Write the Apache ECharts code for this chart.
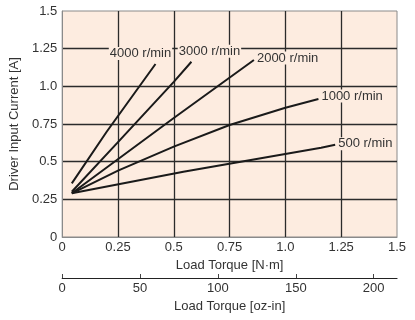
<!DOCTYPE html>
<html>
<head>
<meta charset="utf-8">
<script src="https://cdn.jsdelivr.net/npm/echarts@6/dist/echarts.min.js"></script>
<style>
html,body{margin:0;padding:0;background:#fff;}
#chart{width:415px;height:320px;}
</style>
</head>
<body>
<div id="chart"></div>
<script>
// ---- data (Load Torque [N·m] vs Driver Input Current [A]) ----
const speedNames = ['4000 r/min', '3000 r/min', '2000 r/min', '1000 r/min', '500 r/min'];
const torque4000 = [0.043, 0.2, 0.418];
const current4000 = [0.356, 0.70, 1.148];
const torque3000 = [0.043, 0.25, 0.5, 0.579];
const current3000 = [0.30, 0.63, 1.03, 1.163];
const torque2000 = [0.043, 0.5, 0.859];
const current2000 = [0.29, 0.79, 1.175];
const torque1000 = [0.043, 0.25, 0.5, 0.75, 1.0, 1.148];
const current1000 = [0.29, 0.44, 0.60, 0.743, 0.858, 0.916];
const torque500 = [0.043, 0.543, 1.16, 1.223];
const current500 = [0.29, 0.433, 0.593, 0.612];

const yTickLabels = ['0', '0.25', '0.5', '0.75', '1.0', '1.25', '1.5'];
const xTickLabels = ['0', '0.25', '0.5', '0.75', '1.0', '1.25', '1.5'];
const ozTickLabels = ['0', '50', '100', '150', '200'];

const FONT = "'Liberation Sans', Arial, sans-serif";
const TXT = '#333';
const BG = '#fdece0';

function pairs(xs, ys) { return xs.map((x, i) => [x, ys[i]]); }

const labelCfg = [
  { position: 'top', distance: 4, offset: [-15, 0] },
  { position: 'top', distance: 4, offset: [18, 0] },
  { position: 'right', distance: 2, offset: [0, -2] },
  { position: 'right', distance: 2, offset: [0, -3] },
  { position: 'right', distance: 2, offset: [0, -1] }
];
const allX = [torque4000, torque3000, torque2000, torque1000, torque500];
const allY = [current4000, current3000, current2000, current1000, current500];

const series = speedNames.map((name, k) => {
  const d = pairs(allX[k], allY[k]);
  const last = d.length - 1;
  return {
    name: name,
    type: 'line',
    xAxisIndex: 0,
    yAxisIndex: 0,
    showSymbol: true,
    symbol: 'circle',
    symbolSize: 0,
    silent: true,
    z: 5,
    lineStyle: { color: '#1a1a1a', width: 2 },
    itemStyle: { color: '#1a1a1a' },
    label: { show: false },
    data: d.map((p, i) => i === last ? {
      value: p,
      label: {
        show: true,
        formatter: name,
        position: labelCfg[k].position,
        distance: labelCfg[k].distance,
        offset: labelCfg[k].offset,
        color: TXT,
        fontFamily: FONT,
        fontSize: 13,
        backgroundColor: BG,
        padding: [0, 1]
      }
    } : p)
  };
});

const chart = echarts.init(document.getElementById('chart'), null, { renderer: 'canvas' });
chart.setOption({
  animation: false,
  backgroundColor: '#ffffff',
  grid: {
    left: 57, right: 18, top: 11, bottom: 83,
    show: true, backgroundColor: BG, borderColor: '#8a8a8a', borderWidth: 1
  },
  xAxis: [
    {
      type: 'value', min: 0, max: 1.5, interval: 0.25,
      name: 'Load Torque [N·m]', nameLocation: 'middle', nameGap: 20,
      nameTextStyle: { color: TXT, fontFamily: FONT, fontSize: 13 },
      axisLine: { show: true, lineStyle: { color: '#8a8a8a', width: 1 } },
      axisTick: { show: false },
      axisLabel: {
        color: TXT, fontFamily: FONT, fontSize: 13, margin: 4,
        formatter: v => xTickLabels[Math.round(v / 0.25)]
      },
      splitLine: { show: true, showMinLine: false, showMaxLine: false, lineStyle: { color: '#2b2b2b', width: 1.3 } }
    },
    {
      type: 'value', min: 0, max: 215, interval: 50, position: 'bottom', offset: 41,
      name: 'Load Torque [oz-in]', nameLocation: 'middle', nameGap: 20,
      nameTextStyle: { color: TXT, fontFamily: FONT, fontSize: 13 },
      axisLine: { show: true, onZero: false, lineStyle: { color: '#222', width: 1.2 } },
      axisTick: { show: true, inside: true, length: 4, lineStyle: { color: '#444' } },
      axisLabel: {
        color: TXT, fontFamily: FONT, fontSize: 13, margin: 4,
        showMaxLabel: false,
        formatter: v => ozTickLabels[Math.round(v / 50)] || ''
      },
      splitLine: { show: false }
    }
  ],
  yAxis: {
    type: 'value', min: 0, max: 1.5, interval: 0.25,
    name: 'Driver Input Current [A]', nameLocation: 'middle', nameGap: 37,
    nameTextStyle: { color: TXT, fontFamily: FONT, fontSize: 13 },
    axisLine: { show: true, lineStyle: { color: '#8a8a8a', width: 1 } },
    axisTick: { show: false },
    axisLabel: {
      color: TXT, fontFamily: FONT, fontSize: 13, margin: 5,
      formatter: v => yTickLabels[Math.round(v / 0.25)]
    },
    splitLine: { show: true, showMinLine: false, showMaxLine: false, lineStyle: { color: '#2b2b2b', width: 1.3 } }
  },
  series: series
});
</script>
</body>
</html>
